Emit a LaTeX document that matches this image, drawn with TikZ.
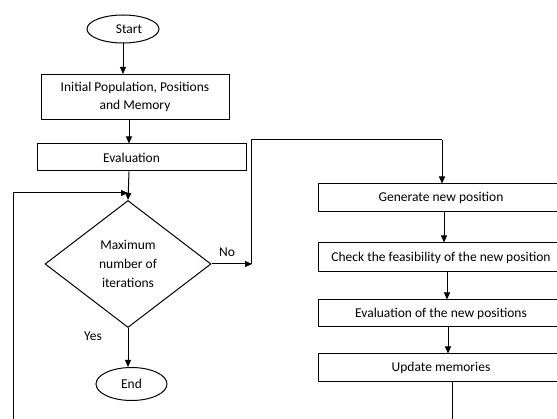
\documentclass[tikz,border=0pt]{standalone}
\usepackage{fontspec}
\setmainfont{Carlito}
\usetikzlibrary{shapes.geometric,arrows.meta}

\begin{document}
\begin{tikzpicture}[x=1pt,y=-1pt,
  every node/.style={font=\fontsize{13.5pt}{17.5pt}\selectfont, inner sep=0pt},
  terminal/.style={draw, ellipse, line width=1pt},
  procbox/.style={draw, rectangle, line width=1pt, align=center},
  decision/.style={draw, diamond, line width=1pt, align=center},
  flow/.style={line width=1pt, -{Triangle[length=7pt,width=6pt]}},
  plain/.style={line width=1pt}]

% page frame
\useasboundingbox (0,0) rectangle (557,419);
\clip (0,0) rectangle (557,419);

% left column
\node[terminal, minimum width=72pt, minimum height=28pt,
      label={[xshift=6pt]center:Start}] (start) at (123,29) {};
\node[procbox, minimum width=188pt, minimum height=45pt] (init) at (135,97)
      {Initial Population, Positions\\[0.2pt]and Memory};
\node[procbox, minimum width=209pt, minimum height=27pt,
      label={[xshift=-10pt]center:Evaluation}] (eval) at (141.5,157.5) {};
\node[decision, minimum width=166pt, minimum height=127pt,
      font=\fontsize{13.5pt}{19pt}\selectfont] (dia) at (128,264)
      {Maximum\\number of\\iterations};
\node[terminal, minimum width=71pt, minimum height=33pt] (end) at (131.5,384) {End};

% right column
\node[procbox, minimum width=246pt, minimum height=28pt] (gen)   at (441,198)   {Generate new position};
\node[procbox, minimum width=246pt, minimum height=29pt] (check) at (441,257.5) {Check the feasibility of the new position};
\node[procbox, minimum width=246pt, minimum height=27pt] (evnew) at (441,313.5) {Evaluation of the new positions};
\node[procbox, minimum width=246pt, minimum height=28pt] (upd)   at (441,368)   {Update memories};

% branch labels
\node (yes) at (93,336) {Yes};
\node (no)  at (227,252) {No};

% helper points of the connectors
\coordinate (nojoin)  at (252,264);
\coordinate (topbend) at (442,140);
\coordinate (loopin)  at (128,193);
\coordinate (loopbot) at (13,440);

% main flow
\draw[flow] (start.south) -- (start.south |- init.north);
\draw[flow] ([xshift=-6pt]init.south) -- ([xshift=-6pt]init.south |- eval.north);
\draw[flow] ([xshift=-12.5pt]eval.south) -- (dia.north);
\draw[flow] (dia.south) -- (dia.south |- end.north);

% "No" branch
\draw[flow] (dia.east) -- (nojoin);
\draw[plain] ([xshift=-1pt]nojoin) |- (topbend);
\draw[flow] (topbend) -- (topbend |- gen.north);

% right column flow
\draw[flow] ([xshift=3pt]gen.south)   -- ([xshift=3pt]gen.south |- check.north);
\draw[flow] ([xshift=6pt]check.south) -- ([xshift=6pt]check.south |- evnew.north);
\draw[flow] ([xshift=7pt]evnew.south) -- ([xshift=7pt]evnew.south |- upd.north);

% loop back to the decision
\draw[flow] ([xshift=11pt]upd.south) -- ([xshift=11pt]upd.south |- loopbot)
   -- (loopbot) -- (loopbot |- loopin) -- (loopin);
\end{tikzpicture}
\end{document}
